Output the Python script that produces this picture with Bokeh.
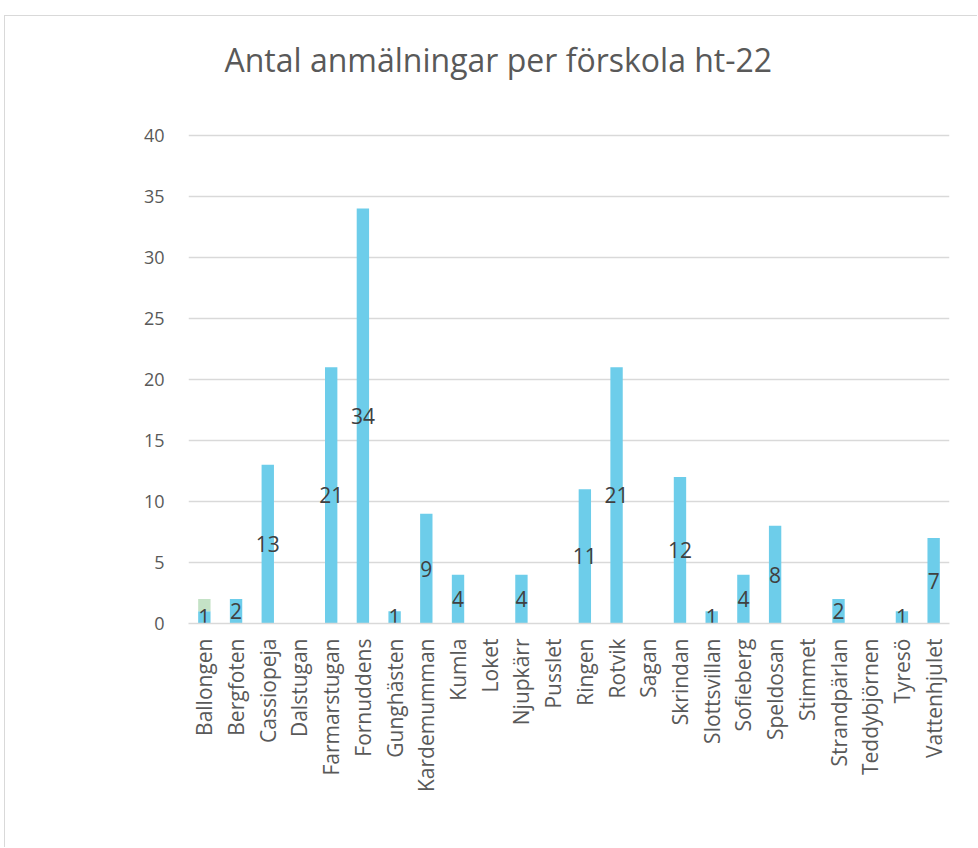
from bokeh.plotting import figure
from bokeh.models import ColumnDataSource, FactorRange, Range1d, FixedTicker, Title
from bokeh.core.properties import value
from bokeh.embed import file_html
from bokeh.resources import INLINE
import math

categories = ["Ballongen", "Bergfoten", "Cassiopeja", "Dalstugan", "Farmarstugan",
              "Fornuddens", "Gunghästen", "Kardemumman", "Kumla", "Loket", "Njupkärr",
              "Pusslet", "Ringen", "Rotvik", "Sagan", "Skrindan", "Slottsvillan",
              "Sofieberg", "Speldosan", "Stimmet", "Strandpärlan", "Teddybjörnen",
              "Tyresö", "Vattenhjulet"]
series_blue = [1, 2, 13, 0, 21, 34, 1, 9, 4, 0, 4, 0, 11, 21, 0, 12, 1, 4, 8, 0, 2, 0, 1, 7]
series_green = [1, 0, 0, 0, 0, 0, 0, 0, 0, 0, 0, 0, 0, 0, 0, 0, 0, 0, 0, 0, 0, 0, 0, 0]
y_ticks = [0, 5, 10, 15, 20, 25, 30, 35, 40]
title_text = "Antal anmälningar per förskola ht-22"

BLUE = "#6DCDEA"
GREEN = "#C4E2C6"
GRID = "#D9D9D9"
FONT = "Open Sans"

p = figure(x_range=FactorRange(*categories, range_padding=0), y_range=Range1d(0, 40.15),
           width=973, height=832, output_backend="svg", toolbar_location=None,
           min_border_left=183, min_border_right=29, min_border_top=117, min_border_bottom=225)
p.styles = {"margin-left": "4px", "margin-top": "15px",
            "border-top": "1.5px solid #d9d9d9", "border-left": "1.5px solid #d9d9d9"}
p.title.visible = False

spacer = Title(text=" ", standoff=45, text_font_size="1px")
p.add_layout(spacer, "above")
t = Title(text=title_text, align="left", offset=36, standoff=10, text_font=FONT,
          text_font_size="32px", text_font_style="normal", text_color="#595959")
p.add_layout(t, "above")

src = ColumnDataSource(dict(cat=categories, blue=series_blue,
                            top2=[b + g for b, g in zip(series_blue, series_green)]))
p.vbar(x="cat", top="blue", bottom=0, width=0.39, source=src, fill_color=BLUE, line_color=None)
p.vbar(x="cat", top="top2", bottom="blue", width=0.39, source=src, fill_color=GREEN, line_color=None)

lab_x = [c for c, v in zip(categories, series_blue) if v > 0]
lab_y = [v / 2 for v in series_blue if v > 0]
lab_t = [str(v) for v in series_blue if v > 0]
p.text(x=lab_x, y=lab_y, text=lab_t, text_align="center", text_baseline="middle",
       text_font=value(FONT), text_font_size="21px", text_color="#404040")

p.outline_line_color = None
p.background_fill_color = "white"
p.border_fill_color = "white"
p.xgrid.grid_line_color = None
p.ygrid.grid_line_color = GRID
p.ygrid.grid_line_width = 1.5
p.yaxis.ticker = FixedTicker(ticks=y_ticks)
p.yaxis.axis_line_color = None
p.yaxis.major_tick_line_color = None
p.yaxis.minor_tick_line_color = None
p.yaxis.major_tick_out = 0
p.yaxis.minor_tick_out = 0
p.yaxis.major_label_standoff = 24
p.yaxis.major_label_text_font = FONT
p.yaxis.major_label_text_font_size = "18px"
p.yaxis.major_label_text_color = "#595959"

p.xaxis.axis_line_color = GRID
p.xaxis.axis_line_width = 1.5
p.xaxis.major_tick_line_color = None
p.xaxis.major_tick_out = 0
p.xaxis.major_label_orientation = math.pi / 2
p.xaxis.major_label_standoff = 15
p.xaxis.major_label_text_font = FONT
p.xaxis.major_label_text_font_size = "21px"
p.xaxis.major_label_text_color = "#595959"

open("out.html", "w").write(file_html(p, INLINE))
